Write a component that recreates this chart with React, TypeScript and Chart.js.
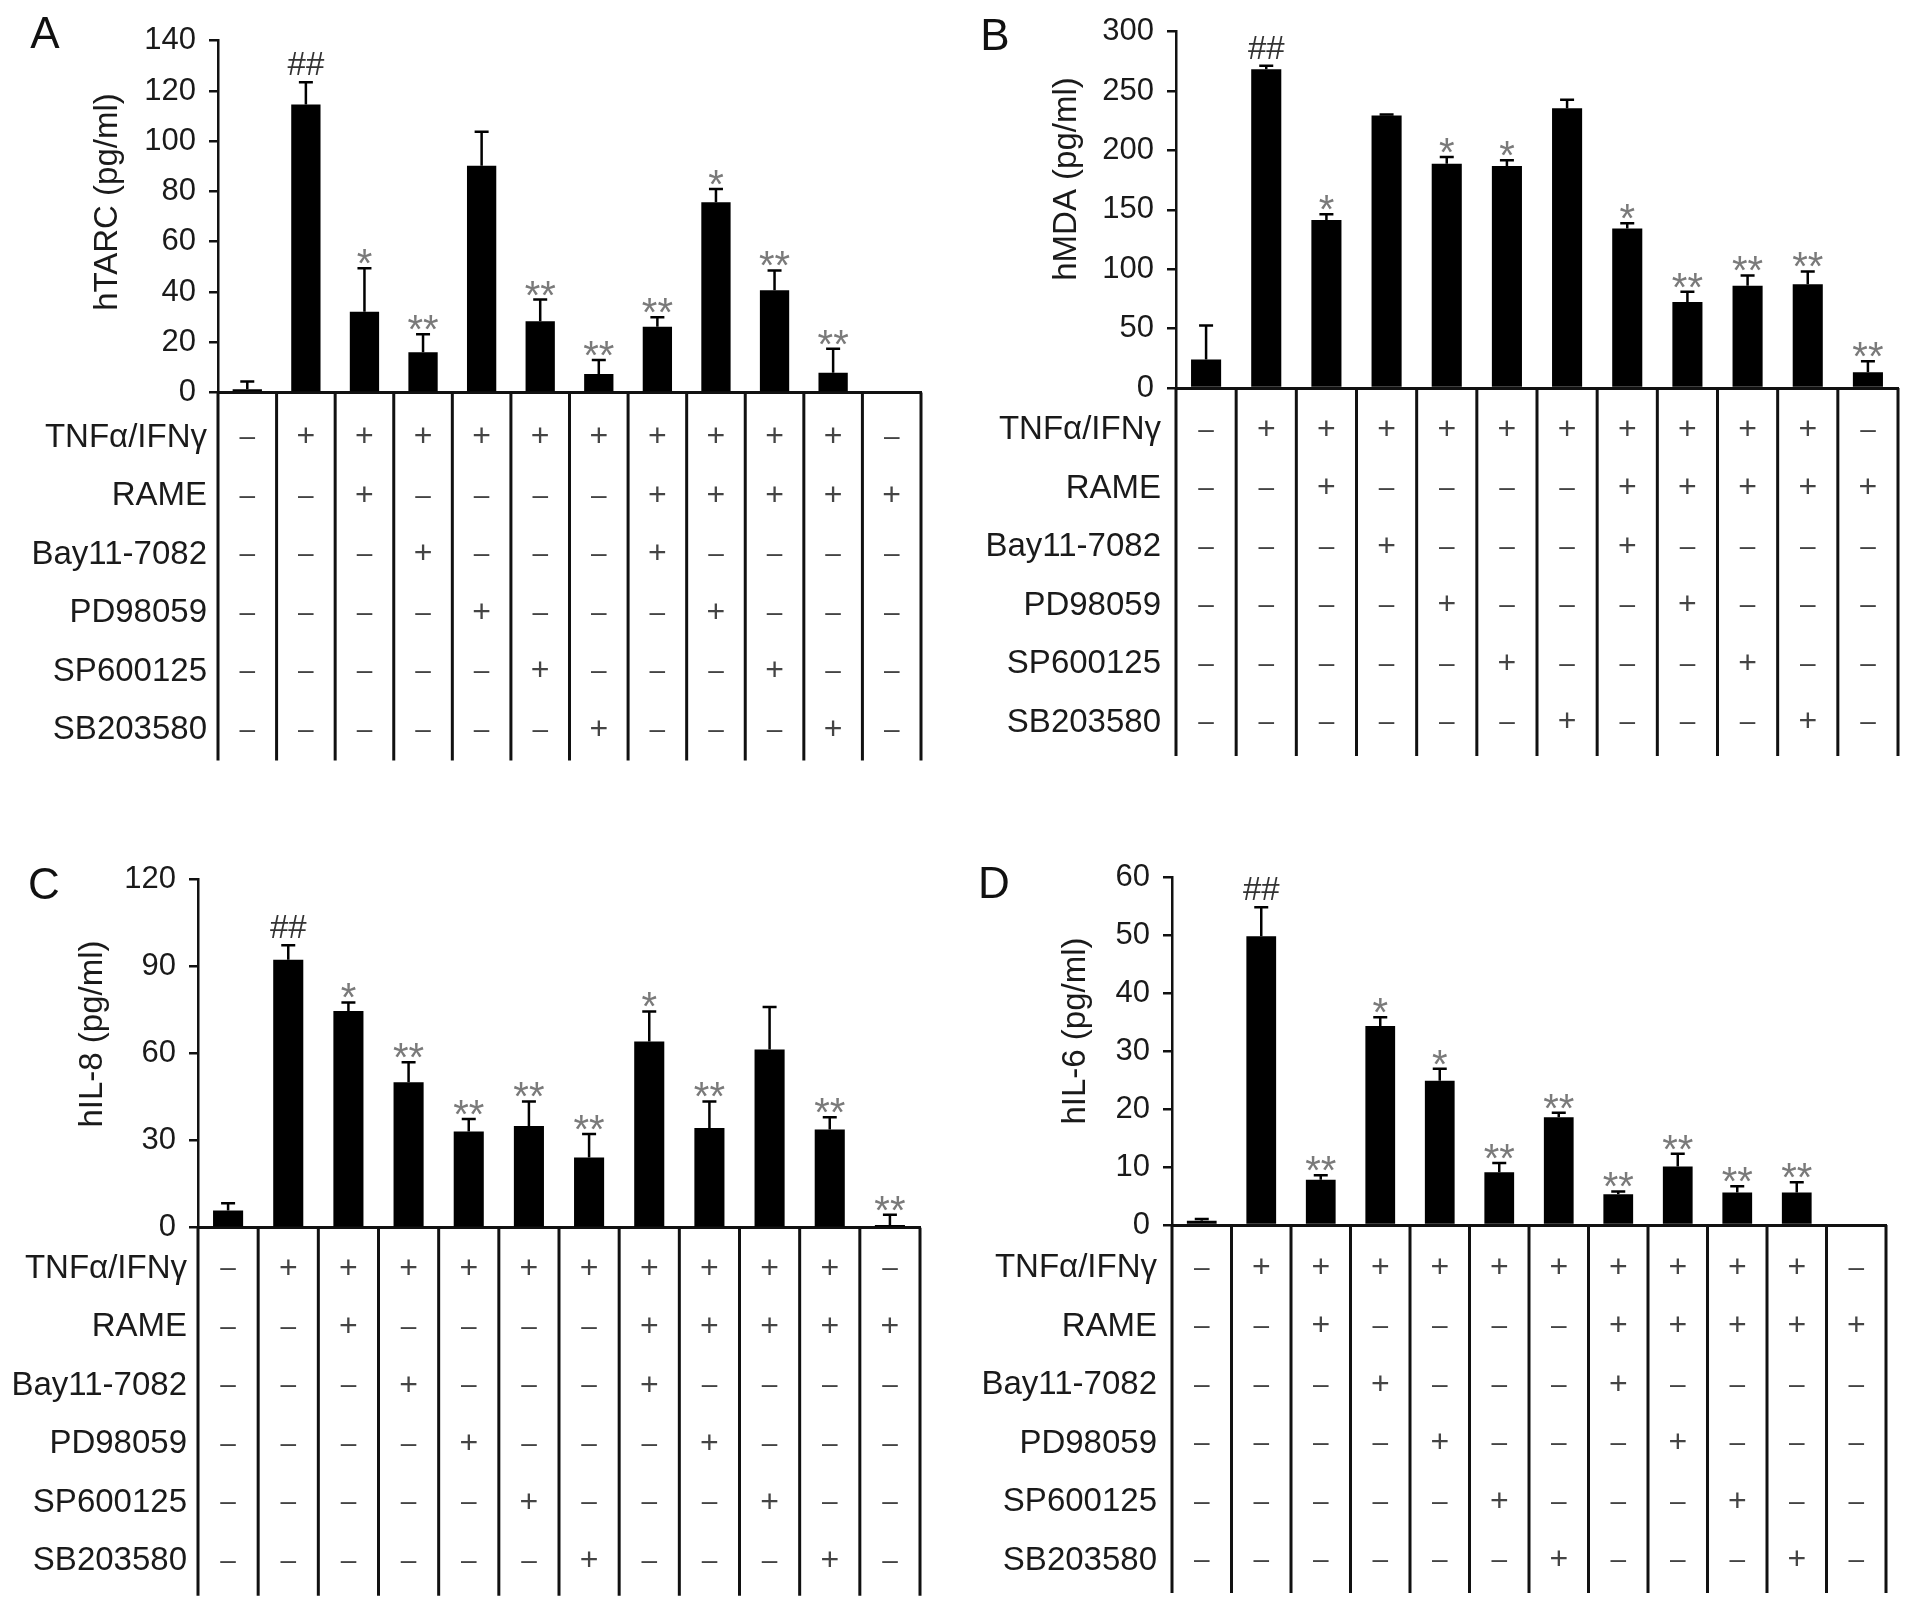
import React, { useEffect, useRef } from 'react';
import { Chart, registerables } from 'chart.js';

Chart.register(...registerables);

// ---------- data ----------
const categories = ['1', '2', '3', '4', '5', '6', '7', '8', '9', '10', '11', '12'];

const rowLabels = ['TNFα/IFNγ', 'RAME', 'Bay11-7082', 'PD98059', 'SP600125', 'SB203580'];
const tnfRow = [0, 1, 1, 1, 1, 1, 1, 1, 1, 1, 1, 0];
const rameRow = [0, 0, 1, 0, 0, 0, 0, 1, 1, 1, 1, 1];
const bayRow = [0, 0, 0, 1, 0, 0, 0, 1, 0, 0, 0, 0];
const pdRow = [0, 0, 0, 0, 1, 0, 0, 0, 1, 0, 0, 0];
const spRow = [0, 0, 0, 0, 0, 1, 0, 0, 0, 1, 0, 0];
const sbRow = [0, 0, 0, 0, 0, 0, 1, 0, 0, 0, 1, 0];
const tableRows = [tnfRow, rameRow, bayRow, pdRow, spRow, sbRow];

const tarcValues = [1.3, 114.6, 32.1, 16.0, 90.2, 28.4, 7.4, 26.2, 75.7, 40.7, 7.9, 0];
const tarcErrors = [3.1, 8.9, 17.3, 7.2, 13.6, 8.6, 5.5, 3.7, 5.3, 7.9, 9.5, 0];
const tarcSig = ['', '##', '*', '**', '', '**', '**', '**', '*', '**', '**', ''];
const tarcTicks = [0, 20, 40, 60, 80, 100, 120, 140];

const mdaValues = [23.9, 268.4, 141.5, 229.4, 188.7, 186.8, 235.4, 134.3, 72.3, 86.0, 87.4, 13.2];
const mdaErrors = [28.8, 2.8, 4.7, 0.8, 5.8, 5.0, 7.2, 4.4, 8.7, 8.8, 10.7, 9.3];
const mdaSig = ['', '##', '*', '', '*', '*', '', '*', '**', '**', '**', '**'];
const mdaTicks = [0, 50, 100, 150, 200, 250, 300];

const il8Values = [5.9, 92.3, 74.6, 50.1, 33.1, 35.0, 24.2, 64.1, 34.3, 61.4, 33.8, 0.9];
const il8Errors = [2.5, 5.0, 3.0, 6.9, 4.3, 8.5, 8.1, 10.4, 9.2, 14.6, 4.2, 3.6];
const il8Sig = ['', '##', '*', '**', '**', '**', '**', '*', '**', '', '**', '**'];
const il8Ticks = [0, 30, 60, 90, 120];

const il6Values = [0.75, 49.9, 7.8, 34.4, 24.9, 9.1, 18.6, 5.3, 10.1, 5.6, 5.6, 0];
const il6Errors = [0.3, 5.0, 0.8, 1.5, 2.1, 1.6, 0.8, 0.5, 2.2, 1.1, 1.8, 0];
const il6Sig = ['', '##', '**', '*', '*', '**', '**', '**', '**', '**', '**', ''];
const il6Ticks = [0, 10, 20, 30, 40, 50, 60];

// ---------- layout / style ----------
const FONT = '"Liberation Sans", Arial, sans-serif';
const Y_W = 120;
const ROW_STEP = 58.5;
const TABLE_H = 368;

type Panel = {
  letter: string;
  title: string;
  values: number[];
  errors: number[];
  sig: string[];
  ticks: number[];
  box: { left: number; top: number; width: number; height: number };
  axisX: number;
  rightX: number;
  topY: number;
  zeroY: number;
  letterPos: [number, number];
  titlePos: [number, number];
  labelGap: number;
  row0: number;
};

const panels: Panel[] = [
  {
    letter: 'A', title: 'hTARC (pg/ml)', values: tarcValues, errors: tarcErrors, sig: tarcSig, ticks: tarcTicks,
    box: { left: 0, top: 0, width: 956, height: 800 },
    axisX: 218, rightX: 921, topY: 40.7, zeroY: 392.5, letterPos: [45, 36], titlePos: [108, 202], labelGap: 11, row0: 45,
  },
  {
    letter: 'B', title: 'hMDA (pg/ml)', values: mdaValues, errors: mdaErrors, sig: mdaSig, ticks: mdaTicks,
    box: { left: 956, top: 0, width: 957, height: 800 },
    axisX: 1176, rightX: 1898, topY: 24.3, zeroY: 388, letterPos: [995, 38], titlePos: [1067, 179], labelGap: 15, row0: 42,
  },
  {
    letter: 'C', title: 'hIL-8 (pg/ml)', values: il8Values, errors: il8Errors, sig: il8Sig, ticks: il8Ticks,
    box: { left: 0, top: 800, width: 956, height: 809 },
    axisX: 198, rightX: 920, topY: 879.3, zeroY: 1227.7, letterPos: [44, 887], titlePos: [93, 1034], labelGap: 11, row0: 41,
  },
  {
    letter: 'D', title: 'hIL-6 (pg/ml)', values: il6Values, errors: il6Errors, sig: il6Sig, ticks: il6Ticks,
    box: { left: 956, top: 800, width: 957, height: 809 },
    axisX: 1172, rightX: 1886, topY: 877.7, zeroY: 1225, letterPos: [994, 886], titlePos: [1076, 1031], labelGap: 15, row0: 43,
  },
];

function makePlugin(p: Panel) {
  return {
    id: 'panelExtras' + p.letter,
    afterDraw(chart: any) {
      const ctx = chart.ctx as CanvasRenderingContext2D;
      const area = chart.chartArea;
      const xs = chart.scales.x;
      const ys = chart.scales.y;
      const ox = p.box.left;
      const oy = p.box.top;
      ctx.save();

      // panel letter
      ctx.fillStyle = '#111';
      ctx.font = `44px ${FONT}`;
      ctx.textAlign = 'center';
      ctx.textBaseline = 'middle';
      ctx.fillText(p.letter, p.letterPos[0] - ox, p.letterPos[1] - oy);

      // y-axis title
      ctx.save();
      ctx.translate(p.titlePos[0] - ox, p.titlePos[1] - oy);
      ctx.rotate(-Math.PI / 2);
      ctx.font = `33px ${FONT}`;
      ctx.fillStyle = '#1a1a1a';
      ctx.textAlign = 'center';
      ctx.textBaseline = 'middle';
      ctx.fillText(p.title, 0, 0);
      ctx.restore();

      // error bars
      const meta = chart.getDatasetMeta(0);
      ctx.strokeStyle = '#000';
      ctx.lineWidth = 2.5;
      meta.data.forEach((el: any, i: number) => {
        const err = p.errors[i];
        if (!err) return;
        const yTop = ys.getPixelForValue(p.values[i] + err);
        ctx.beginPath();
        ctx.moveTo(el.x, el.y);
        ctx.lineTo(el.x, yTop);
        ctx.moveTo(el.x - 7, yTop);
        ctx.lineTo(el.x + 7, yTop);
        ctx.stroke();
      });

      // significance marks
      ctx.textAlign = 'center';
      ctx.textBaseline = 'alphabetic';
      meta.data.forEach((el: any, i: number) => {
        const s = p.sig[i];
        if (!s) return;
        const yTop = ys.getPixelForValue(p.values[i] + p.errors[i]);
        if (s.startsWith('#')) {
          ctx.font = `33px ${FONT}`;
          ctx.fillStyle = '#333';
          ctx.fillText(s, el.x, yTop - 7);
        } else {
          ctx.font = `40px ${FONT}`;
          ctx.fillStyle = '#7a7a7a';
          ctx.fillText(s, el.x, yTop + 9);
        }
      });

      // table below the x axis
      const z = area.bottom;
      const colW = (area.right - area.left) / categories.length;
      ctx.strokeStyle = '#111';
      ctx.lineWidth = 3;
      for (let i = 0; i <= categories.length; i++) {
        const x = area.left + i * colW;
        ctx.beginPath();
        ctx.moveTo(x, z);
        ctx.lineTo(x, z + TABLE_H);
        ctx.stroke();
      }
      rowLabels.forEach((label, r) => {
        const y = z + p.row0 + r * ROW_STEP;
        ctx.font = `33px ${FONT}`;
        ctx.fillStyle = '#1a1a1a';
        ctx.textAlign = 'right';
        ctx.textBaseline = 'middle';
        ctx.fillText(label, area.left - p.labelGap, y);
        ctx.textAlign = 'center';
        ctx.fillStyle = '#444';
        tableRows[r].forEach((v, c) => {
          const cx = xs.getPixelForValue(c);
          if (v) {
            ctx.font = `32px ${FONT}`;
            ctx.fillText('+', cx, y);
          } else {
            ctx.font = `28px ${FONT}`;
            ctx.fillText('–', cx, y);
          }
        });
      });
      ctx.restore();
    },
  };
}

function PanelChart({ p }: { p: Panel }) {
  const ref = useRef<HTMLCanvasElement | null>(null);
  useEffect(() => {
    if (!ref.current) return;
    const W = p.box.width;
    const H = p.box.height;
    const axisL = p.axisX - p.box.left;
    const rightL = p.rightX - p.box.left;
    const topL = p.topY - p.box.top;
    const zeroL = p.zeroY - p.box.top;
    const ticks = p.ticks;
    const chart = new Chart(ref.current, {
      type: 'bar',
      data: {
        labels: categories,
        datasets: [
          {
            data: p.values,
            backgroundColor: '#000',
            borderWidth: 0,
            barPercentage: 0.5,
            categoryPercentage: 1,
          },
        ],
      },
      options: {
        responsive: false,
        animation: false,
        devicePixelRatio: 1,
        layout: {
          padding: { left: axisL - Y_W, right: W - rightL, top: topL, bottom: 0 },
        },
        plugins: {
          legend: { display: false },
          tooltip: { enabled: false },
          title: { display: false },
        },
        scales: {
          x: {
            type: 'category',
            offset: true,
            grid: { display: false },
            border: { display: true, color: '#111', width: 3 },
            ticks: { display: false },
            afterFit: (s: any) => {
              s.height = H - zeroL;
            },
          },
          y: {
            min: ticks[0],
            max: ticks[ticks.length - 1],
            afterBuildTicks: (s: any) => {
              s.ticks = ticks.map((v) => ({ value: v }));
            },
            ticks: {
              font: { family: FONT, size: 31 },
              color: '#1a1a1a',
              padding: 13,
            },
            grid: {
              display: true,
              drawOnChartArea: false,
              drawTicks: true,
              tickLength: 9,
              color: '#111',
              lineWidth: 2.5,
            },
            border: { display: true, color: '#111', width: 2.5 },
            afterFit: (s: any) => {
              s.width = Y_W;
            },
          },
        },
      } as any,
      plugins: [makePlugin(p)],
    });
    return () => chart.destroy();
  }, [p]);
  return (
    <canvas
      ref={ref}
      width={p.box.width}
      height={p.box.height}
      style={{
        position: 'absolute',
        left: p.box.left,
        top: p.box.top,
        width: p.box.width,
        height: p.box.height,
      }}
    />
  );
}

export default function App() {
  return (
    <div
      style={{
        position: 'absolute',
        left: 0,
        top: 0,
        width: 1913,
        height: 1609,
        background: '#fff',
        overflow: 'hidden',
      }}
    >
      {panels.map((p) => (
        <PanelChart key={p.letter} p={p} />
      ))}
    </div>
  );
}
